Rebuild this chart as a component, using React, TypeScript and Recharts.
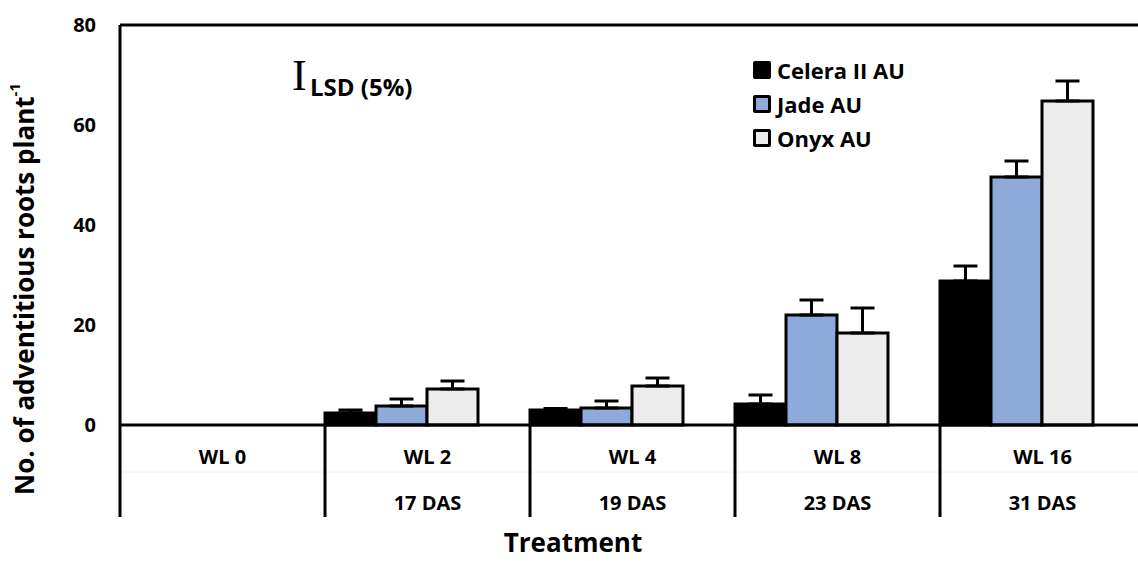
import React from 'react';
import { BarChart, Bar, XAxis, YAxis, ErrorBar, ReferenceLine } from 'recharts';

const categories = ['WL 0', 'WL 2', 'WL 4', 'WL 8', 'WL 16'];
const dasLabels = ['', '17 DAS', '19 DAS', '23 DAS', '31 DAS'];
const celera = [0, 2.4, 3.0, 4.2, 28.8];
const celeraErr = [0, 0.6, 0.3, 1.8, 3.0];
const jade = [0, 3.8, 3.4, 22.0, 49.6];
const jadeErr = [0, 1.4, 1.4, 3.0, 3.2];
const onyx = [0, 7.2, 7.8, 18.4, 64.8];
const onyxErr = [0, 1.6, 1.6, 5.0, 4.0];
const yTicks = [0, 20, 40, 60, 80];

const SERIES = [
  { key: 'celera', name: 'Celera II AU', fill: '#000000' },
  { key: 'jade', name: 'Jade AU', fill: '#8eaadb' },
  { key: 'onyx', name: 'Onyx AU', fill: '#ececec' },
];

const data = categories.map((c, i) => ({
  cat: c,
  das: dasLabels[i],
  celera: celera[i],
  celeraE: [0, celeraErr[i]],
  jade: jade[i],
  jadeE: [0, jadeErr[i]],
  onyx: onyx[i],
  onyxE: [0, onyxErr[i]],
}));

const FONT = '"Open Sans", Lato, sans-serif';

const XTick = (props: any) => {
  const { x, y, payload, index, width, visibleTicksCount } = props;
  const n = visibleTicksCount || categories.length;
  const band = (width || 1025) / n;
  const left = x - band / 2;
  return (
    <g>
      <line x1={left} x2={left + band} y1={y + 47} y2={y + 47} stroke="#f2f2f2" strokeWidth={1} />
      <line x1={left} x2={left} y1={y} y2={y + 92} stroke="#000" strokeWidth={3} />
      <text x={x} y={y + 31} textAnchor="middle" dominantBaseline="central" fontFamily={FONT} fontWeight={700} fontSize={20} fill="#000">
        {payload.value}
      </text>
      <text x={x} y={y + 77} textAnchor="middle" dominantBaseline="central" fontFamily={FONT} fontWeight={700} fontSize={20} fill="#000">
        {dasLabels[index]}
      </text>
    </g>
  );
};

const YLabel = () => (
  <text
    x={24}
    y={289}
    transform="rotate(-90, 24, 289)"
    textAnchor="middle"
    dominantBaseline="central"
    fontFamily={FONT}
    fontWeight={700}
    fontSize={26}
    fill="#000"
  >
    No. of adventitious roots plant
    <tspan dy={-10} fontSize={15}>-1</tspan>
  </text>
);

const LegendBox = () => (
  <div style={{ position: 'absolute', left: 753, top: 53, fontFamily: FONT, fontWeight: 700, fontSize: 22, color: '#000', lineHeight: '34px' }}>
    {SERIES.map((s) => (
      <div key={s.key} style={{ display: 'flex', alignItems: 'center', height: 34 }}>
        <div
          style={{
            width: 12,
            height: 12,
            background: s.fill,
            border: '3px solid #000',
            borderRadius: 2,
            marginRight: 6,
          }}
        />
        <span>{s.name}</span>
      </div>
    ))}
  </div>
);

export default function App() {
  return (
    <div style={{ position: 'absolute', left: 0, top: 0, width: 1138, height: 561, overflow: 'hidden', background: '#fff' }}>
      <BarChart
        width={1150}
        height={561}
        data={data}
        margin={{ top: 25, right: 5, left: 60, bottom: 41 }}
        barCategoryGap={0}
        barGap={0}
      >
        <XAxis
          dataKey="cat"
          axisLine={{ stroke: '#000', strokeWidth: 3 }}
          tickLine={false}
          tickSize={0}
          tickMargin={0}
          height={95}
          interval={0}
          tick={<XTick />}
        />
        <YAxis
          width={60}
          domain={[0, 80]}
          ticks={yTicks}
          axisLine={{ stroke: '#000', strokeWidth: 3 }}
          tickLine={false}
          tickSize={6}
          tickMargin={18}
          tick={{ fontFamily: FONT, fontWeight: 700, fontSize: 20, fill: '#000' }}
          label={<YLabel />}
        />
        <ReferenceLine y={80} stroke="#000" strokeWidth={3} />
        {SERIES.map((s) => (
          <Bar key={s.key} dataKey={s.key} name={s.name} fill={s.fill} stroke="#000" strokeWidth={3} isAnimationActive={false}>
            <ErrorBar dataKey={s.key + 'E'} width={12} strokeWidth={3} stroke="#000" direction="y" />
          </Bar>
        ))}
        <Bar dataKey="pad" fill="none" stroke="none" isAnimationActive={false} legendType="none" />
      </BarChart>
      <LegendBox />
      <svg style={{ position: 'absolute', left: 0, top: 0 }} width={1138} height={561} pointerEvents="none">
        <text x={292} y={90} fontFamily='"Liberation Serif", "DejaVu Serif", serif' fontSize={44} fill="#000">I</text>
        <text x={310} y={86} dominantBaseline="central" fontFamily={FONT} fontWeight={700} fontSize={24} fill="#000">LSD (5%)</text>
        <text x={573} y={552} textAnchor="middle" fontFamily={FONT} fontWeight={700} fontSize={26} fill="#000">Treatment</text>
      </svg>
    </div>
  );
}
